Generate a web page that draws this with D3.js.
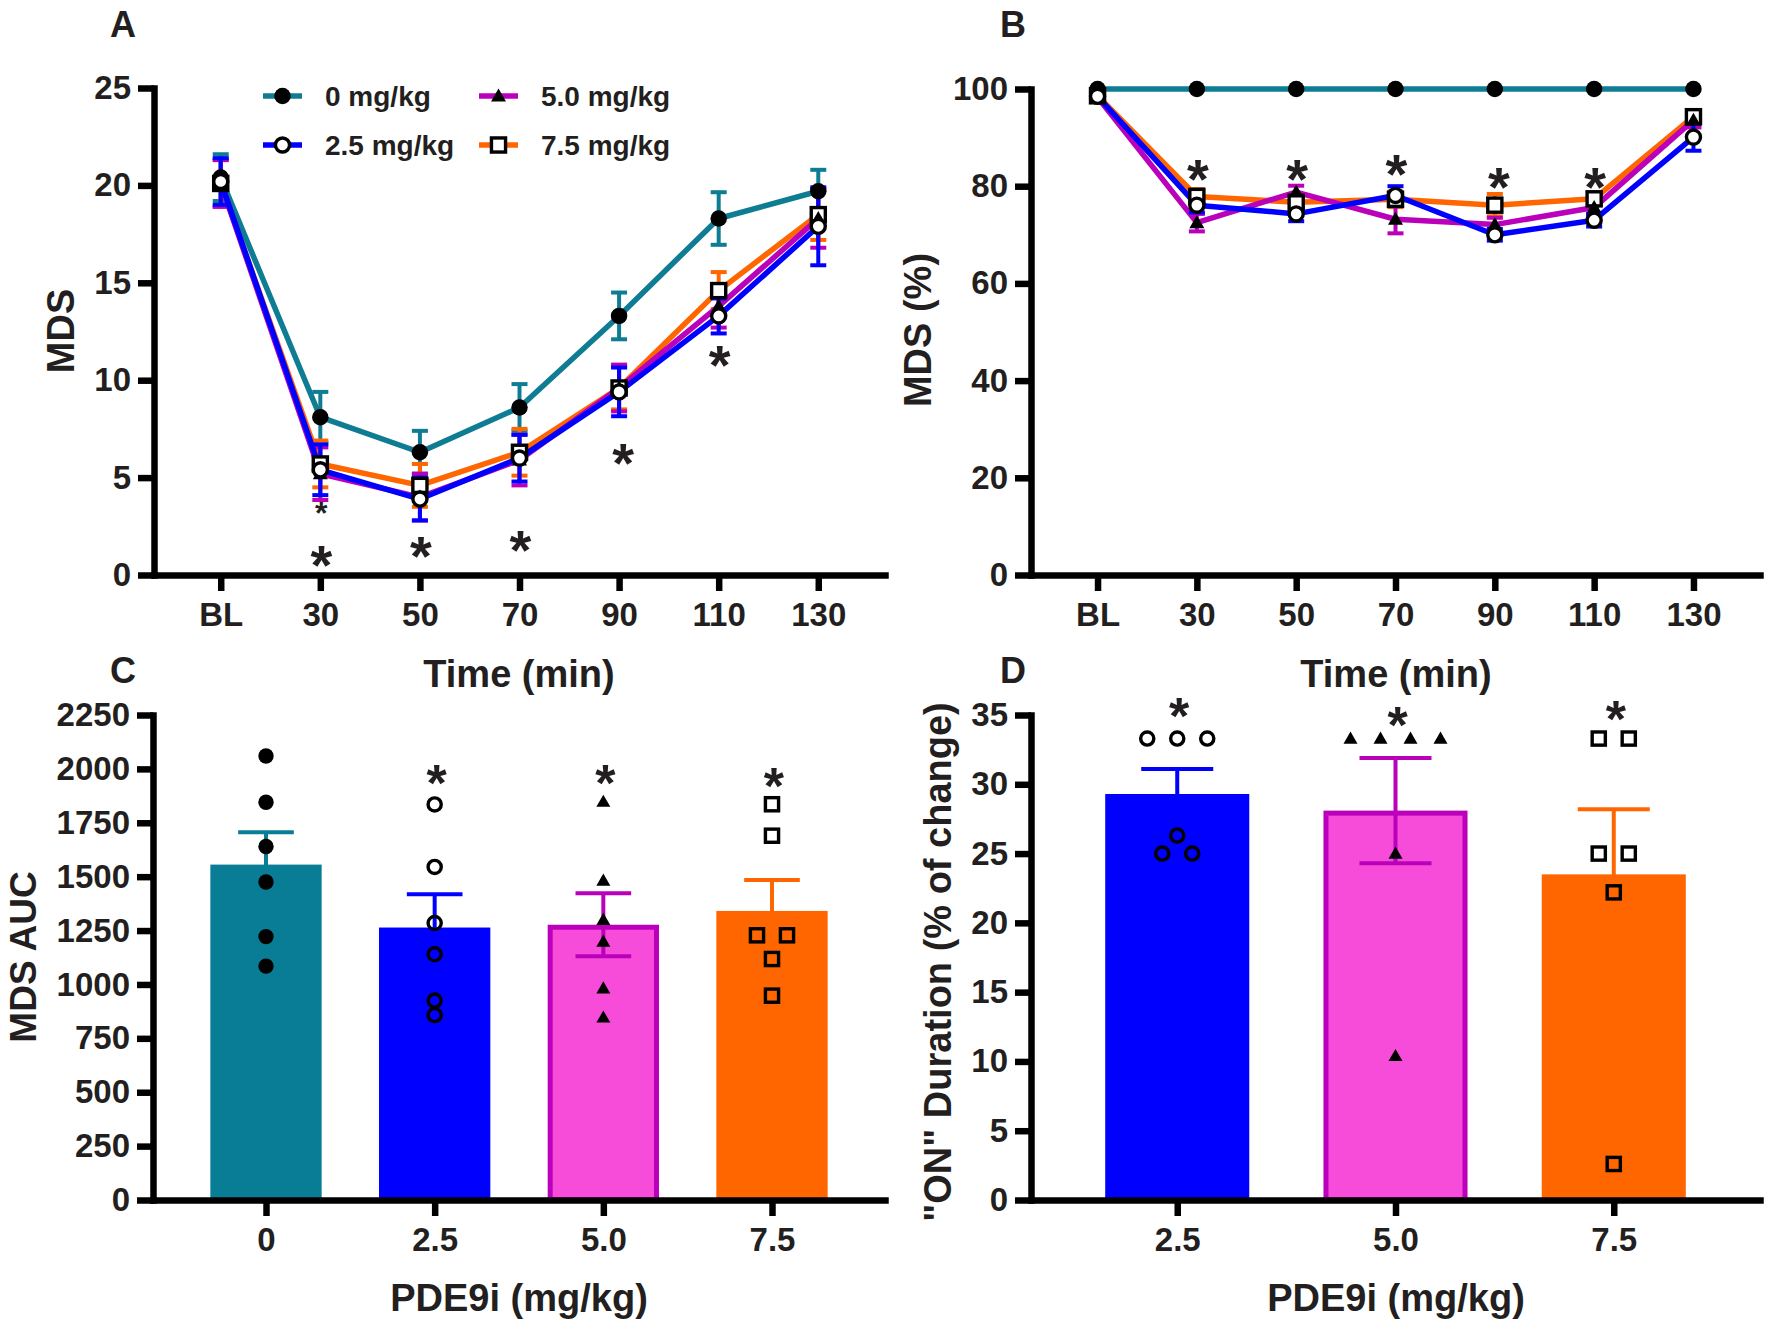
<!DOCTYPE html>
<html><head><meta charset="utf-8">
<script src="https://cdn.jsdelivr.net/npm/d3@7"></script>
<style>
body{margin:0;background:#fff;}
svg text{font-family:"Liberation Sans",Arial,Helvetica,sans-serif;font-weight:bold;fill:#231f20;}
</style></head><body>
<svg id="fig" width="1769" height="1331" xmlns="http://www.w3.org/2000/svg"></svg>
<script>
// ---------------- DATA ----------------
const timeCats = ["BL","30","50","70","90","110","130"];
const doseLabels = ["0 mg/kg","2.5 mg/kg","5.0 mg/kg","7.5 mg/kg"];

// Panel A: MDS (mean, SEM)
const mds0     = [20.4, 8.1, 6.3, 8.6, 13.3, 18.3, 19.7];
const mds0Sem  = [1.2, 1.3, 1.1, 1.2, 1.2, 1.35, 1.1];
const mds25    = [20.2, 5.4, 3.9, 6.0, 9.4, 13.3, 17.9];
const mds25Sem = [1.2, 1.3, 1.1, 1.2, 1.25, 0.9, 2.0];
const mds50    = [20.1, 5.2, 4.0, 5.9, 9.6, 13.8, 18.3];
const mds50Sem = [1.2, 1.35, 1.2, 1.3, 1.2, 1.1, 1.5];
const mds75    = [20.1, 5.7, 4.6, 6.3, 9.6, 14.6, 18.5];
const mds75Sem = [1.2, 1.2, 1.1, 1.2, 1.1, 0.95, 1.3];
const starsA   = [{cat:"30", y:3.55, small:true},{cat:"30", y:1.15},{cat:"50", y:1.6},{cat:"70", y:1.9},{cat:"90", y:6.4},{cat:"110", y:11.4}];

// Panel B: MDS (%)
const pct0     = [100, 100, 100, 100, 100, 100, 100];
const pct0Sem  = [0, 0, 0, 0, 0, 0, 0];
const pct25    = [98.5, 76.1, 74.3, 78.1, 70.0, 73.0, 90.1];
const pct25Sem = [0.5, 1.5, 1.5, 1.9, 1.2, 1.3, 2.8];
const pct50    = [98.3, 72.5, 78.8, 73.2, 72.1, 75.6, 93.6];
const pct50Sem = [0.5, 1.8, 1.3, 2.9, 1.4, 1.5, 1.5];
const pct75    = [98.6, 77.9, 76.7, 77.3, 76.1, 77.4, 94.3];
const pct75Sem = [0.5, 1.5, 1.5, 1.6, 2.3, 1.3, 1.2];
const starsB   = [{cat:"30", y:84.1},{cat:"50", y:84.1},{cat:"70", y:85},{cat:"90", y:82.3},{cat:"110", y:82.3}];

// Panel C: MDS AUC
const aucCats  = ["0","2.5","5.0","7.5"];
const aucMean  = [1556, 1264, 1277, 1341];
const aucSem   = [150, 155, 146, 143];
const auc0     = [2060, 1845, 1640, 1475, 1222, 1085];
const auc25    = [1835, 1545, 1285, 1140, 925, 858];
const auc50    = [1848, 1482, 1300, 1199, 982, 847];
const auc75    = [1836, 1690, 1228, 1228, 1118, 948];
const auc75Dodge = [0, 0, -1, 1, 0, 0];
const starsC   = [{cat:"2.5", y:1985},{cat:"5.0", y:1985},{cat:"7.5", y:1970}];

// Panel D: "ON" duration
const onCats   = ["2.5","5.0","7.5"];
const onMean   = [29.3, 28.1, 23.5];
const onSem    = [1.8, 3.8, 4.7];
const on25     = [33.3, 33.3, 33.3, 26.3, 25, 25];
const on25Dodge= [-2, 0, 2, 0, -1, 1];
const on50     = [33.3, 33.3, 33.3, 33.3, 25, 10.4];
const on50Dodge= [-3, -1, 1, 3, 0, 0];
const on75     = [33.3, 33.3, 25, 25, 22.2, 2.6];
const on75Dodge= [-1, 1, -1, 1, 0, 0];
const starsD   = [{cat:"2.5", y:35.7},{cat:"5.0", y:35.1},{cat:"7.5", y:35.5}];

// ---------------- STYLES ----------------
const lineColors = ["#0e7c92", "#0000ff", "#bb00bb", "#ff6600"];
const markerTypes = ["dot", "circle", "triangle", "square"];
const barFillC = ["#097d95", "#0000ff", "#f74bd9", "#ff6600"];
const barStrokeC = ["#097d95", "#0000ff", "#bb00bb", "#ff6600"];

const svg = d3.select("#fig");

function styleAxis(sel, fs) {
  sel.attr("font-size", null).attr("font-family", null);
  sel.select(".domain").attr("stroke", "#000").attr("stroke-width", 6.5).attr("stroke-linecap", "square");
  sel.selectAll(".tick line").attr("stroke", "#000").attr("stroke-width", 6.5);
  sel.selectAll(".tick text").attr("fill", "#231f20").style("font-size", fs + "px");
}

function drawMarker(g, type, cx, cy, s, openFill) {
  if (type === "dot") {
    g.append("circle").attr("cx", cx).attr("cy", cy).attr("r", s * 0.55).attr("fill", "#000");
  } else if (type === "circle") {
    g.append("circle").attr("cx", cx).attr("cy", cy).attr("r", s * 0.47)
      .attr("fill", openFill).attr("stroke", "#000").attr("stroke-width", 3.4);
  } else if (type === "square") {
    const h = s * 0.47;
    g.append("rect").attr("x", cx - h).attr("y", cy - h).attr("width", 2 * h).attr("height", 2 * h)
      .attr("fill", openFill).attr("stroke", "#000").attr("stroke-width", 3.4);
  } else if (type === "triangle") {
    const area = (s * s) * Math.sqrt(3) / 4;
    g.append("path").attr("d", d3.symbol(d3.symbolTriangle, area)())
      .attr("transform", `translate(${cx},${cy + s * 0.08})`).attr("fill", "#000");
  }
}

function star(g, x, y, fs) {
  g.append("text").attr("x", x).attr("y", y + fs * 0.56).attr("text-anchor", "middle")
    .style("font-size", fs + "px").text("*");
}

function yTitle(x, y, txt, fs) {
  svg.append("text").attr("transform", `translate(${x},${y}) rotate(-90)`).attr("text-anchor", "middle")
    .style("font-size", fs + "px").text(txt);
}
function plainText(x, y, txt, fs, anchor) {
  svg.append("text").attr("x", x).attr("y", y).attr("text-anchor", anchor || "middle")
    .style("font-size", fs + "px").text(txt);
}

// ---------------- LINE PANELS ----------------
function linePanel(box, means, sems, yMax, yTicks, stars) {
  const x = d3.scalePoint().domain(timeCats).range([box.x0, box.x1]).padding(0.67);
  const y = d3.scaleLinear().domain([0, yMax]).range([box.yb, box.yt]);
  const g = svg.append("g");
  g.append("g").attr("transform", `translate(0,${box.yb})`)
    .call(d3.axisBottom(x).tickSize(16).tickSizeOuter(0).tickPadding(12)).call(styleAxis, 33);
  g.append("g").attr("transform", `translate(${box.x0},0)`)
    .call(d3.axisLeft(y).tickValues(yTicks).tickSize(16).tickSizeOuter(0).tickPadding(7)).call(styleAxis, 33);

  const order = [0, 3, 2, 1];
  const line = d3.line().x((d, i) => x(timeCats[i])).y(d => y(d));
  order.forEach(si => {
    const col = lineColors[si];
    const eg = g.append("g").attr("stroke", col).attr("stroke-width", 4);
    means[si].forEach((m, i) => {
      const s = sems[si][i];
      if (s <= 0) return;
      const cx = x(timeCats[i]);
      eg.append("line").attr("x1", cx).attr("x2", cx).attr("y1", y(m - s)).attr("y2", y(m + s));
      eg.append("line").attr("x1", cx - 8).attr("x2", cx + 8).attr("y1", y(m + s)).attr("y2", y(m + s));
      eg.append("line").attr("x1", cx - 8).attr("x2", cx + 8).attr("y1", y(m - s)).attr("y2", y(m - s));
    });
    g.append("path").datum(means[si]).attr("d", line).attr("fill", "none")
      .attr("stroke", col).attr("stroke-width", 5.5).attr("stroke-linejoin", "round");
  });
  const mg = g.append("g");
  order.forEach(si => {
    means[si].forEach((m, i) => drawMarker(mg, markerTypes[si], x(timeCats[i]), y(m), 15, "#fff"));
  });
  stars.forEach(s => star(g, x(s.cat) + (s.cat === "90" ? 4 : 1), y(s.y), s.small ? 32 : 56));
  return {x, y};
}

const boxA = {x0: 154, x1: 885, yt: 88, yb: 575};
const boxB = {x0: 1031, x1: 1760, yt: 89, yb: 575};
linePanel(boxA, [mds0, mds25, mds50, mds75], [mds0Sem, mds25Sem, mds50Sem, mds75Sem], 25, [0,5,10,15,20,25], starsA);
linePanel(boxB, [pct0, pct25, pct50, pct75], [pct0Sem, pct25Sem, pct50Sem, pct75Sem], 100, [0,20,40,60,80,100], starsB);

// Legend (panel A)
const legPos = [[263, 96], [263, 145], [479, 96], [479, 145]];
doseLabels.forEach((lab, i) => {
  const [lx, ly] = legPos[i];
  const lg = svg.append("g");
  lg.append("line").attr("x1", lx).attr("x2", lx + 39).attr("y1", ly).attr("y2", ly)
    .attr("stroke", lineColors[i]).attr("stroke-width", 5.5);
  drawMarker(lg, markerTypes[i], lx + 19.5, ly, 15, "#fff");
  lg.append("text").attr("x", lx + 62).attr("y", ly + 10).style("font-size", "28px").text(lab);
});

// ---------------- BAR PANELS ----------------
function barPanel(box, cats, means, sems, fills, strokes, yMax, yTicks, pointSets, types, dodges, dodgeStep, stars) {
  const x = d3.scalePoint().domain(cats).range([box.x0, box.x1]).padding(0.67);
  const y = d3.scaleLinear().domain([0, yMax]).range([box.yb, box.yt]);
  const step = x.step();
  const bw = step * 0.66;
  const g = svg.append("g");
  cats.forEach((c, i) => {
    const sw = fills[i] === strokes[i] ? 0 : 5;
    g.append("rect").attr("x", x(c) - bw / 2 + sw / 2).attr("y", y(means[i]) + sw / 2)
      .attr("width", bw - sw).attr("height", y(0) - y(means[i]) - sw / 2)
      .attr("fill", fills[i]).attr("stroke", sw ? strokes[i] : "none").attr("stroke-width", sw);
  });
  cats.forEach((c, i) => {
    const cx = x(c), m = means[i], s = sems[i];
    const eg = g.append("g").attr("stroke", strokes[i]).attr("stroke-width", 4);
    eg.append("line").attr("x1", cx).attr("x2", cx).attr("y1", y(m - s)).attr("y2", y(m + s));
    eg.append("line").attr("x1", cx - bw / 4).attr("x2", cx + bw / 4).attr("y1", y(m + s)).attr("y2", y(m + s));
    eg.append("line").attr("x1", cx - bw / 4).attr("x2", cx + bw / 4).attr("y1", y(m - s)).attr("y2", y(m - s));
  });
  pointSets.forEach((pts, i) => {
    pts.forEach((v, j) => {
      const dx = dodges[i] ? dodges[i][j] * dodgeStep : 0;
      drawMarker(g, types[i], x(cats[i]) + dx, y(v), 14, "none");
    });
  });
  g.append("g").attr("transform", `translate(0,${box.yb})`)
    .call(d3.axisBottom(x).tickSize(16).tickSizeOuter(0).tickPadding(12)).call(styleAxis, 33);
  g.append("g").attr("transform", `translate(${box.x0},0)`)
    .call(d3.axisLeft(y).tickValues(yTicks).tickFormat(d3.format("d")).tickSize(16).tickSizeOuter(0).tickPadding(7)).call(styleAxis, 33);
  stars.forEach(s => star(g, x(s.cat) + 2, y(s.y), 52));
}

const boxC = {x0: 153, x1: 885, yt: 715, yb: 1200};
const boxD = {x0: 1031, x1: 1760, yt: 715, yb: 1200};
barPanel(boxC, aucCats, aucMean, aucSem, barFillC, barStrokeC, 2250, d3.range(0, 2251, 250),
  [auc0, auc25, auc50, auc75], ["dot", "circle", "triangle", "square"], [null, null, null, auc75Dodge], 15, starsC);
barPanel(boxD, onCats, onMean, onSem, barFillC.slice(1), barStrokeC.slice(1), 35, d3.range(0, 36, 5),
  [on25, on50, on75], ["circle", "triangle", "square"], [on25Dodge, on50Dodge, on75Dodge], 15, starsD);

// ---------------- TITLES ----------------
yTitle(74, 331, "MDS", 38);
yTitle(931, 330, "MDS (%)", 38);
yTitle(36, 957, "MDS AUC", 37);
yTitle(951, 962, "\"ON\" Duration (% of change)", 38);
plainText(519, 687, "Time (min)", 38);
plainText(1396, 687, "Time (min)", 38);
plainText(519, 1311, "PDE9i (mg/kg)", 38);
plainText(1396, 1311, "PDE9i (mg/kg)", 38);
plainText(110, 37, "A", 36, "start");
plainText(1000, 37, "B", 36, "start");
plainText(110, 683, "C", 36, "start");
plainText(1000, 683, "D", 36, "start");
</script>
</body></html>
